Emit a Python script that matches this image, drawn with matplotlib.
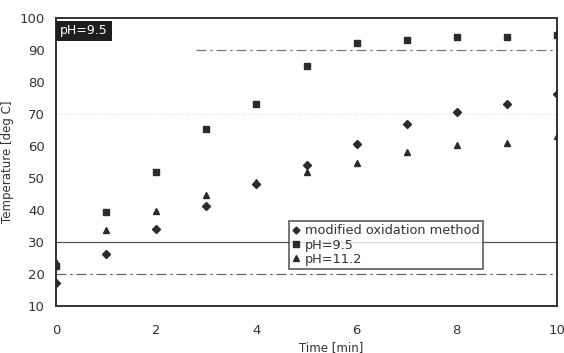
import matplotlib.pyplot as plt
from matplotlib.lines import Line2D

# ----------------------------
# Data
# ----------------------------
time_min = [0, 1, 2, 3, 4, 5, 6, 7, 8, 9, 10]
modified = [17.2, 26.3, 34.2, 41.1, 48.2, 54.2, 60.6, 67.0, 70.5, 73.1, 76.1]
ph95 = [22.5, 39.5, 52.0, 65.3, 73.1, 85.1, 92.2, 93.0, 94.0, 94.0, 94.8]
ph112 = [23.6, 33.8, 39.8, 44.8, 48.6, 51.9, 54.8, 58.0, 60.2, 60.9, 63.0]

x_ticks = [0, 2, 4, 6, 8, 10]
y_ticks = [10, 20, 30, 40, 50, 60, 70, 80, 90, 100]

INK = "#2b2b2b"

fig = plt.figure(figsize=(5.64, 3.53), dpi=100)
ax = fig.add_axes([0.0993, 0.1331, 0.8883, 0.8159])

# reference lines
ax.axhline(30, color="#555555", lw=0.9, zorder=1)
ax.axhline(20, color="#666666", lw=0.9, ls=(0, (8, 3, 2, 3)), zorder=1)
ax.plot([2.8, 10], [90, 90], color="#777777", lw=0.9, ls=(0, (8, 3, 2, 3)), zorder=1)
ax.axhline(70, color="#dddddd", lw=0.8, ls=":", zorder=1)

ax.plot(time_min, modified, ls="none", marker="D", ms=4.2, color=INK,
        label="modified oxidation method", zorder=3)
ax.plot(time_min, ph95, ls="none", marker="s", ms=5, color=INK,
        label="pH=9.5", zorder=3)
ax.plot(time_min, ph112, ls="none", marker="^", ms=4.6, color=INK,
        label="pH=11.2", zorder=3)

ax.set_xlim(0, 10)
ax.set_ylim(10, 100)
ax.set_xticks(x_ticks)
ax.set_yticks(y_ticks)
ax.tick_params(axis="x", length=0, labelsize=9.5, colors="#333333", pad=13)
ax.tick_params(axis="y", length=0, labelsize=9.5, colors="#333333", pad=8)
for s in ax.spines.values():
    s.set_linewidth(1.4)
    s.set_color("#333333")

ax.set_xlabel("Time [min]", fontsize=8.5, color="#333333", labelpad=3, x=0.55)
ax.set_ylabel("Temperature [deg C]", fontsize=8.5, color="#333333", labelpad=4)

# legend
handles = [
    Line2D([], [], ls="none", marker="D", ms=3.5, color=INK),
    Line2D([], [], ls="none", marker="s", ms=3.8, color=INK),
    Line2D([], [], ls="none", marker="^", ms=3.8, color=INK),
]
leg = ax.legend(handles, ["modified oxidation method", "pH=9.5", "pH=11.2"],
                loc="lower left", bbox_to_anchor=(0.465, 0.128),
                fontsize=9.3, frameon=True, fancybox=False,
                handlelength=0.6, handletextpad=0.4, borderpad=0.25,
                labelspacing=0.1, borderaxespad=0)
leg.get_frame().set_edgecolor("#333333")
leg.get_frame().set_linewidth(1.2)
for t in leg.get_texts():
    t.set_color("#333333")

# dark label box at top left of the plot
ax.text(0.008, 0.955, "pH=9.5", transform=ax.transAxes, color="white",
        fontsize=9, va="center", ha="left",
        bbox=dict(boxstyle="square,pad=0.3", fc="#1e1e1e", ec="none"))

plt.savefig("out.png", dpi=100)
